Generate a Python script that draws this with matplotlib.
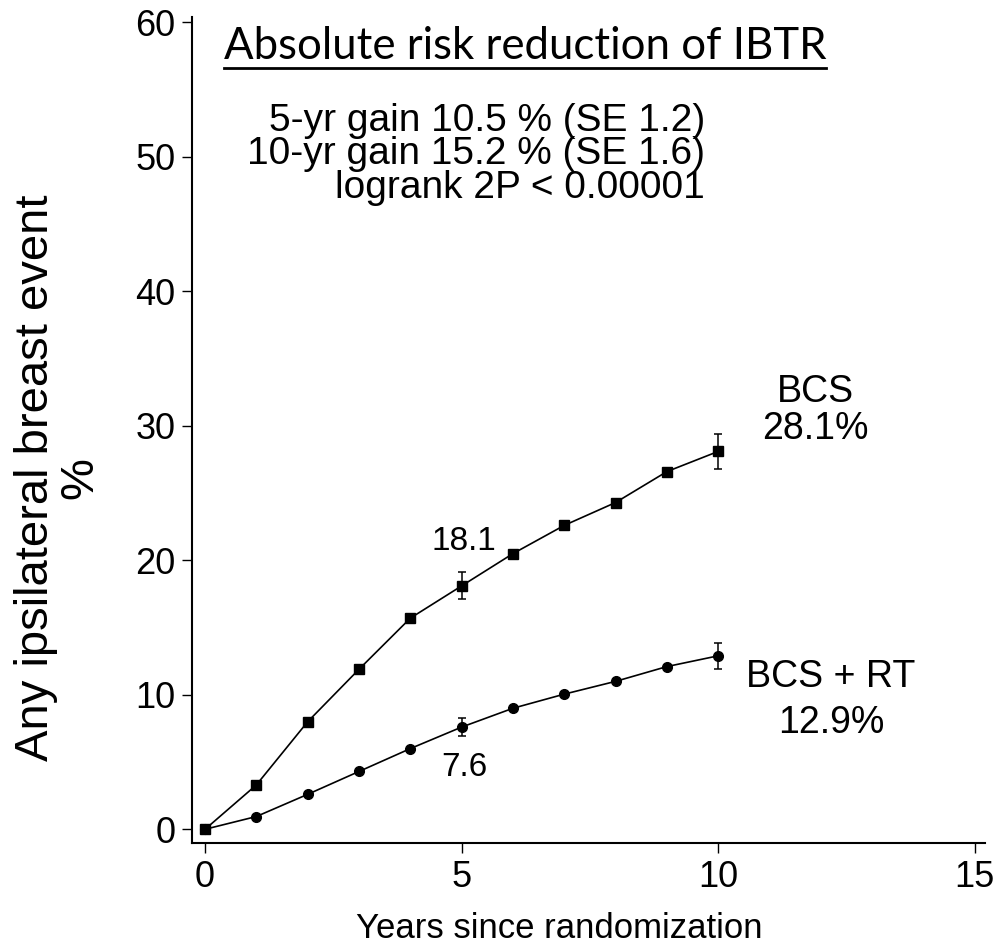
import matplotlib
matplotlib.use('Agg')
import matplotlib.pyplot as plt
from matplotlib.lines import Line2D
import numpy as np

years = [0, 1, 2, 3, 4, 5, 6, 7, 8, 9, 10]
bcs = [0, 3.3, 8.0, 11.9, 15.7, 18.1, 20.5, 22.6, 24.3, 26.6, 28.1]
bcs_rt = [0, 0.95, 2.6, 4.3, 6.0, 7.6, 9.0, 10.05, 11.0, 12.1, 12.9]

# standard errors are only shown at 5 and 10 years
se_years = [5, 10]
bcs_se = [1.0, 1.3]
bcs_rt_se = [0.7, 0.95]

x_ticks = [0, 5, 10, 15]
y_ticks = [0, 10, 20, 30, 40, 50, 60]

gain_lines = ['5-yr gain 10.5 % (SE 1.2)',
              '10-yr gain 15.2 % (SE 1.6)',
              'logrank 2P < 0.00001']

plt.rcParams['font.family'] = ['Liberation Sans', 'DejaVu Sans']

fig = plt.figure(figsize=(9.95, 9.49), dpi=100)
ax = fig.add_axes([0.193, 0.1117, 0.797, 0.8703])

ax.plot(years, bcs, color='black', lw=1.2, marker='s', ms=7.5, zorder=3)
ax.plot(years, bcs_rt, color='black', lw=1.2, marker='o', ms=7, zorder=3)

bcs_at = [bcs[years.index(y)] for y in se_years]
rt_at = [bcs_rt[years.index(y)] for y in se_years]
ax.errorbar(se_years, bcs_at, yerr=bcs_se, fmt='none', ecolor='black',
            elinewidth=1.1, capsize=3, capthick=1.1)
ax.errorbar(se_years, rt_at, yerr=bcs_rt_se, fmt='none', ecolor='black',
            elinewidth=1.1, capsize=3, capthick=1.1)

ax.set_xlim(-0.254, 15.2)
ax.set_ylim(-1.02, 60.4)
ax.set_xticks(x_ticks)
ax.set_yticks(y_ticks)
ax.tick_params(axis='both', labelsize=26, length=7, width=1.0, pad=5)

for side in ['top', 'right']:
    ax.spines[side].set_visible(False)
for side in ['left', 'bottom']:
    ax.spines[side].set_linewidth(1.5)

# value labels at 5 years and end-of-curve labels
ax.text(5.05, bcs[5] + 3.3, f'{bcs[5]:.1f}', fontsize=24, ha='center', va='center')
ax.text(5.05, bcs_rt[5] - 3.0, f'{bcs_rt[5]:.1f}', fontsize=24, ha='center', va='center')
ax.text(11.9, 32.5, 'BCS', fontsize=27, ha='center', va='center')
ax.text(11.9, 29.8, f'{bcs[10]:.1f}%', fontsize=27, ha='center', va='center')
ax.text(12.2, 11.3, 'BCS + RT', fontsize=27, ha='center', va='center')
ax.text(12.2, 7.9, f'{bcs_rt[10]:.1f}%', fontsize=27, ha='center', va='center')

gain_y = [121, 154, 188]
for line, py in zip(gain_lines, gain_y):
    fig.text(705 / 995, 1 - py / 949, line, fontsize=28, ha='right', va='center')

fig.text(559 / 995, 1 - 929 / 949, 'Years since randomization',
         fontsize=25, ha='center', va='center')
fig.text(58 / 995, 1 - 478 / 949, 'Any ipsilateral breast event\n%',
         fontsize=34, ha='center', va='center', rotation=90, linespacing=1.0)

title = fig.text(525 / 995, 1 - 59 / 949, 'Absolute risk reduction of IBTR',
                 fontsize=31.5, family=['Lato', 'DejaVu Sans'], ha='center',
                 va='baseline')

# underline the title
fig.canvas.draw()
bb = title.get_window_extent().transformed(fig.transFigure.inverted())
uy = 1 - 68 / 949
fig.add_artist(Line2D([bb.x0, bb.x1], [uy, uy], transform=fig.transFigure,
                      color='black', lw=2.0))

fig.savefig('out.png', dpi=100)
